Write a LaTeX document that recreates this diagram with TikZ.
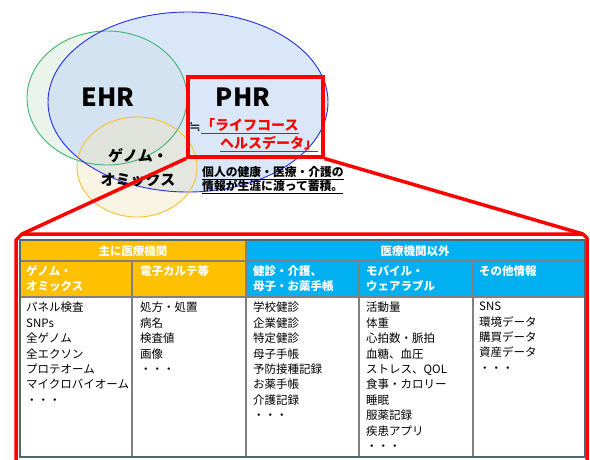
\documentclass[tikz,border=0pt]{standalone}
\usepackage{fontspec}
\setmainfont{Noto Sans CJK JP}
\newfontfamily\symfont{DejaVu Sans}
\usetikzlibrary{shapes.geometric}
\definecolor{ehrG}{HTML}{3CB371}
\definecolor{phrB}{HTML}{2030E0}
\definecolor{genY}{HTML}{F5C030}
\definecolor{orgH}{HTML}{FFC000}
\definecolor{cyH}{HTML}{00B0F0}
\definecolor{redB}{HTML}{FF0000}
\definecolor{gridG}{HTML}{808080}
\definecolor{frameS}{HTML}{52666E}
\definecolor{fillG}{HTML}{EAF4EC}
\definecolor{fillB}{HTML}{CADDF5}
\definecolor{fillY}{HTML}{F3E4BC}
\begin{document}
\begin{tikzpicture}[x=1pt,y=-1pt,
  big/.style={font=\fontsize{25}{28}\selectfont\bfseries},
  mid/.style={font=\fontsize{15}{24}\selectfont\bfseries, align=center},
  hdr/.style={font=\fontsize{11.5}{15}\selectfont\bfseries, text=white, inner sep=0pt},
  hdrl/.style={hdr, anchor=north west, align=left},
  body/.style={font=\fontsize{11.5}{15.4}\selectfont, anchor=north west, align=left, inner sep=0pt},
  cellO/.style={fill=orgH, draw=gridG, line width=1.2pt},
  cellC/.style={fill=cyH, draw=gridG, line width=1.2pt},
  cellW/.style={fill=white, draw=gridG, line width=1.2pt},
  redline/.style={draw=redB, line width=3.5pt}
]
\useasboundingbox (0,0) rectangle (590,459);

% ellipses (fills)
\fill[fillG] (107,98) ellipse [x radius=80, y radius=67];
\fill[fillB, fill opacity=0.7] (188,102) ellipse [x radius=140, y radius=90];
\fill[fillY, fill opacity=0.4] (137,167) ellipse [x radius=60, y radius=50];
% outlines
\draw[ehrG, line width=0.9pt] (107,98) ellipse [x radius=80, y radius=67];
\draw[phrB, line width=0.9pt] (188,102) ellipse [x radius=140, y radius=90];
\draw[genY, line width=0.9pt] (137,167) ellipse [x radius=60, y radius=50];

\node[big] (ehr) at (108,97) {EHR};
\node[big] (phr) at (243,97) {PHR};
\node[mid] (gen) at (138,168) {ゲノム・\\オミックス};

\node[draw=redB, line width=3.5pt, minimum width=135pt, minimum height=80pt, anchor=north west, inner sep=0pt] (phrbox) at (186,75) {};

\node[font=\symfont\fontsize{14}{14}\selectfont, inner sep=0pt] (approx) at (195,127) {≒};
\node[font=\fontsize{14}{18}\selectfont\bfseries, text=redB, anchor=west, inner sep=0pt] (lc1) at (201,126) {\underline{「ライフコース}};
\node[font=\fontsize{14}{18}\selectfont\bfseries, text=redB, anchor=west, inner sep=0pt] (lc2) at (220,144) {\underline{ヘルスデータ」}};

\node[font=\fontsize{11.8}{14.5}\selectfont\bfseries, anchor=north west, align=left, inner sep=0pt] (desc) at (202,166)
  {\underline{個人の健康・医療・介護の}\\\underline{情報が生涯に渡って蓄積。}};

% red frame around table
\draw[redline, line join=round] (16,470) -- (16,240) -- (22,234) -- (583,234) -- (587,238) -- (587,470);
\draw[redline] (phrbox.south west) -- (22,234);
\draw[redline] (phrbox.south east) -- (583,234);

% table
\draw[frameS, line width=1.5pt, fill=white] (20,240) rectangle (585,457);
\path[cellO] (20,240) rectangle (246,261);
\path[cellC] (246,240) rectangle (585,261);
\path[cellO] (20,261) rectangle (132,297);
\path[cellO] (132,261) rectangle (246,297);
\path[cellC] (246,261) rectangle (359,297);
\path[cellC] (359,261) rectangle (473,297);
\path[cellC] (473,261) rectangle (585,297);
\path[cellW] (20,297) rectangle (132,457);
\path[cellW] (132,297) rectangle (246,457);
\path[cellW] (246,297) rectangle (359,457);
\path[cellW] (359,297) rectangle (473,457);
\path[cellW] (473,297) rectangle (585,457);
\draw[frameS, line width=1.5pt] (20,240) rectangle (585,457);

\node[hdr] (h1) at (133,251) {主に医療機関};
\node[hdr] (h2) at (415,251) {医療機関以外};

\node[hdrl] (c1) at (26,265) {ゲノム・\\オミックス};
\node[hdrl] (c2) at (140,265) {電子カルテ等};
\node[hdrl] (c3) at (253,265) {健診・介護、\\母子・お薬手帳};
\node[hdrl] (c4) at (366,265) {モバイル・\\ウェアラブル};
\node[hdrl] (c5) at (479,265) {その他情報};

\node[body] (b1) at (26,302) {パネル検査\\SNPs\\全ゲノム\\全エクソン\\プロテオーム\\マイクロバイオーム\\・・・};
\node[body] (b2) at (140,302) {処方・処置\\病名\\検査値\\画像\\・・・};
\node[body] (b3) at (253,302) {学校健診\\企業健診\\特定健診\\母子手帳\\予防接種記録\\お薬手帳\\介護記録\\・・・};
\node[body] (b4) at (366,302) {活動量\\体重\\心拍数・脈拍\\血糖、血圧\\ストレス、QOL\\食事・カロリー\\睡眠\\服薬記録\\疾患アプリ\\・・・};
\node[body] (b5) at (479,302) {SNS\\環境データ\\購買データ\\資産データ\\・・・};
\end{tikzpicture}
\end{document}
